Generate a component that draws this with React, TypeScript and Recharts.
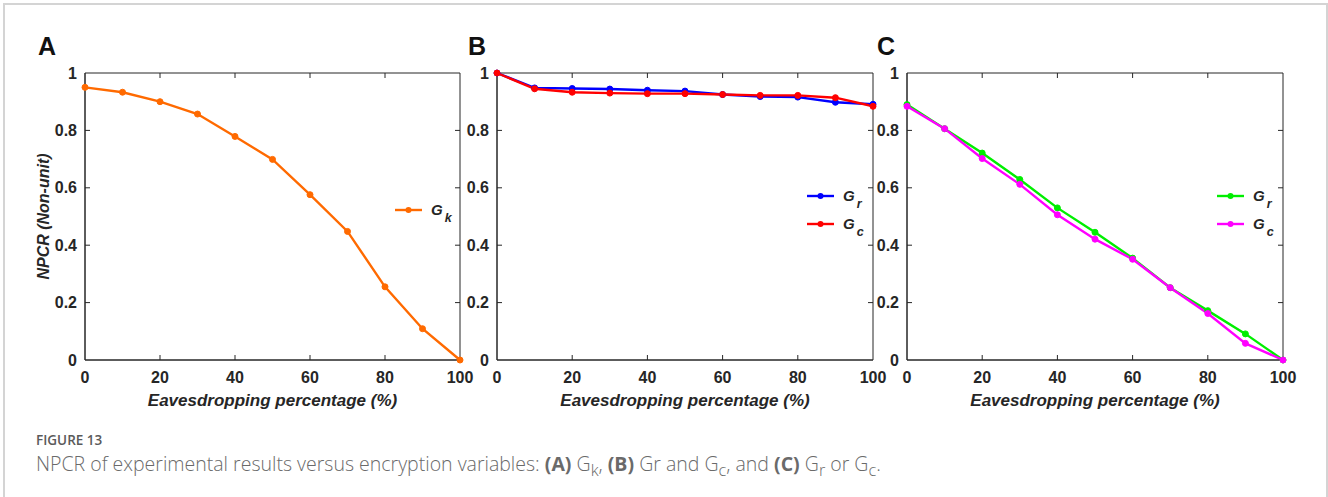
import React from 'react';
import { LineChart, Line, XAxis, YAxis, Legend, ReferenceArea, ReferenceLine } from 'recharts';

const eavesdropping = [0, 10, 20, 30, 40, 50, 60, 70, 80, 90, 100];
const gkA = [0.95, 0.933, 0.9, 0.857, 0.779, 0.699, 0.576, 0.448, 0.255, 0.109, 0.0];
const grB = [1.0, 0.948, 0.946, 0.944, 0.94, 0.937, 0.925, 0.918, 0.916, 0.898, 0.891];
const gcB = [1.0, 0.945, 0.933, 0.93, 0.928, 0.928, 0.925, 0.922, 0.922, 0.914, 0.884];
const grC = [0.89, 0.806, 0.721, 0.629, 0.53, 0.445, 0.355, 0.252, 0.172, 0.091, 0.0];
const gcC = [0.884, 0.806, 0.702, 0.612, 0.506, 0.421, 0.351, 0.252, 0.162, 0.058, 0.0];

const xTicks = [0, 20, 40, 60, 80, 100];
const yTicks = [0, 0.2, 0.4, 0.6, 0.8, 1];

const AXIS_COLOR = '#262626';
const FONT = '"Liberation Sans", Arial, Helvetica, sans-serif';
const TICK_LEN = 5;

type Series = { key: string; name: string; color: string; values: number[] };

const buildData = (series: Series[]) =>
  eavesdropping.map((x, i) => {
    const row: Record<string, number> = { x };
    series.forEach((s) => {
      row[s.key] = s.values[i];
    });
    return row;
  });

// Inward tick marks at both ends of a vertical reference line (bottom + top of frame)
const VerticalTickMarks = (props: any) => {
  const { x1, y1, y2 } = props;
  const top = Math.min(y1, y2);
  const bottom = Math.max(y1, y2);
  return (
    <g>
      <line x1={x1} x2={x1} y1={bottom} y2={bottom - TICK_LEN} stroke={AXIS_COLOR} strokeWidth={1} />
      <line x1={x1} x2={x1} y1={top} y2={top + TICK_LEN} stroke={AXIS_COLOR} strokeWidth={1} />
    </g>
  );
};

// Inward tick marks at both ends of a horizontal reference line (left + right of frame)
const HorizontalTickMarks = (props: any) => {
  const { x1, x2, y1 } = props;
  const left = Math.min(x1, x2);
  const right = Math.max(x1, x2);
  return (
    <g>
      <line x1={left} x2={left + TICK_LEN} y1={y1} y2={y1} stroke={AXIS_COLOR} strokeWidth={1} />
      <line x1={right} x2={right - TICK_LEN} y1={y1} y2={y1} stroke={AXIS_COLOR} strokeWidth={1} />
    </g>
  );
};

const LegendContent = (props: any) => {
  const { payload, order } = props;
  const items = [...(payload || [])].sort(
    (a: any, b: any) => (order || []).indexOf(a.value) - (order || []).indexOf(b.value)
  );
  return (
    <div style={{ display: 'flex', flexDirection: 'column', fontFamily: FONT }}>
      {items.map((entry: any) => {
        const [base, sub] = String(entry.value).split('_');
        return (
          <div key={entry.value} style={{ display: 'flex', alignItems: 'center', height: 28 }}>
            <svg width={27} height={10} style={{ display: 'block' }}>
              <line x1={0} y1={5} x2={27} y2={5} stroke={entry.color} strokeWidth={2.4} />
              <circle cx={13.5} cy={5} r={3} fill={entry.color} />
            </svg>
            <span
              style={{
                marginLeft: 9,
                fontStyle: 'italic',
                fontWeight: 'bold',
                fontSize: 15,
                color: AXIS_COLOR,
                lineHeight: '15px',
              }}
            >
              {base}
              <span style={{ fontSize: 12.5, position: 'relative', top: 7, marginLeft: 2 }}>{sub}</span>
            </span>
          </div>
        );
      })}
    </div>
  );
};

type PanelProps = {
  series: Series[];
  left: number;
  width: number;
  yAxisWidth: number;
  marginRight: number;
  yTitle?: string;
  legendLeft: number;
  legendTop: number;
};

const Panel = ({ series, left, width, yAxisWidth, marginRight, yTitle, legendLeft, legendTop }: PanelProps) => {
  const data = buildData(series);
  const tickStyle = { fill: AXIS_COLOR, fontSize: 16, fontWeight: 'bold', fontFamily: FONT };
  return (
    <div style={{ position: 'absolute', left, top: 0 }}>
      <LineChart
        width={width}
        height={420}
        data={data}
        margin={{ top: 73, right: marginRight, bottom: 0, left: 0 }}
      >
        <XAxis
          dataKey="x"
          type="number"
          domain={[0, 100]}
          ticks={xTicks}
          interval={0}
          height={60}
          tickSize={0}
          tickLine={false}
          tickMargin={12}
          stroke={AXIS_COLOR}
          tick={tickStyle}
          label={{
            value: 'Eavesdropping percentage (%)',
            position: 'insideBottom',
            offset: 14,
            style: { fill: AXIS_COLOR, fontSize: 17, fontWeight: 'bold', fontStyle: 'italic', fontFamily: FONT },
          }}
        />
        <YAxis
          type="number"
          domain={[0, 1]}
          ticks={yTicks}
          interval={0}
          width={yAxisWidth}
          tickSize={0}
          tickLine={false}
          tickMargin={8}
          stroke={AXIS_COLOR}
          tick={tickStyle}
          tickFormatter={(v: number) => String(v)}
          label={
            yTitle
              ? {
                  value: yTitle,
                  position: 'insideLeft',
                  offset: 43,
                  angle: -90,
                  style: {
                    textAnchor: 'middle',
                    fill: AXIS_COLOR,
                    fontSize: 16,
                    fontWeight: 'bold',
                    fontStyle: 'italic',
                    fontFamily: FONT,
                  },
                }
              : undefined
          }
        />
        <ReferenceArea
          x1={0}
          x2={100}
          y1={0}
          y2={1}
          fill="none"
          fillOpacity={0}
          stroke={AXIS_COLOR}
          strokeWidth={1}
          ifOverflow="visible"
        />
        {xTicks.slice(1, -1).map((t) => (
          <ReferenceLine key={`xt${t}`} x={t} shape={<VerticalTickMarks />} ifOverflow="visible" />
        ))}
        {yTicks.slice(1, -1).map((t) => (
          <ReferenceLine key={`yt${t}`} y={t} shape={<HorizontalTickMarks />} ifOverflow="visible" />
        ))}
        {series.map((s) => (
          <Line
            key={s.key}
            dataKey={s.key}
            name={s.name}
            stroke={s.color}
            strokeWidth={2.4}
            dot={{ r: 3, fill: s.color, stroke: s.color, strokeWidth: 1 }}
            isAnimationActive={false}
          />
        ))}
        <Legend
          layout="horizontal"
          verticalAlign="middle"
          align="center"
          content={<LegendContent order={series.map((s) => s.name)} />}
          wrapperStyle={{ left: legendLeft, top: legendTop, width: 'auto', height: 'auto' }}
        />
      </LineChart>
    </div>
  );
};

const seriesA: Series[] = [{ key: 'gk', name: 'G_k', color: '#ff6a00', values: gkA }];
const seriesB: Series[] = [
  { key: 'gr', name: 'G_r', color: '#0000ff', values: grB },
  { key: 'gc', name: 'G_c', color: '#ff0000', values: gcB },
];
const seriesC: Series[] = [
  { key: 'gr', name: 'G_r', color: '#00ee00', values: grC },
  { key: 'gc', name: 'G_c', color: '#ff00ff', values: gcC },
];

const letterStyle: React.CSSProperties = {
  position: 'absolute',
  top: 34,
  fontFamily: FONT,
  fontWeight: 'bold',
  fontSize: 25,
  lineHeight: 1,
  color: '#111',
};

export default function App() {
  return (
    <div
      style={{
        position: 'absolute',
        left: 0,
        top: 0,
        width: 1328,
        height: 497,
        background: '#fff',
        overflow: 'hidden',
      }}
    >
      <div
        style={{
          position: 'absolute',
          left: 3,
          top: 3,
          width: 1321,
          height: 520,
          border: '2px solid #d4d4d4',
          borderBottom: 'none',
        }}
      />
      <Panel
        series={seriesA}
        left={0}
        width={480}
        yAxisWidth={85}
        marginRight={20}
        yTitle="NPCR (Non-unit)"
        legendLeft={395}
        legendTop={196}
      />
      <Panel
        series={seriesB}
        left={460}
        width={430}
        yAxisWidth={37}
        marginRight={17}
        legendLeft={347}
        legendTop={182}
      />
      <Panel
        series={seriesC}
        left={870}
        width={440}
        yAxisWidth={37}
        marginRight={27}
        legendLeft={347}
        legendTop={182}
      />
      <div style={{ ...letterStyle, left: 38 }}>A</div>
      <div style={{ ...letterStyle, left: 468 }}>B</div>
      <div style={{ ...letterStyle, left: 877 }}>C</div>
      <div
        style={{
          position: 'absolute',
          left: 36,
          top: 434,
          fontFamily: '"Open Sans", sans-serif',
          fontSize: 13.5,
          lineHeight: '13.5px',
          fontWeight: 600,
          color: '#5a5a5a',
          whiteSpace: 'nowrap',
        }}
      >
        FIGURE 13
      </div>
      <div
        style={{
          position: 'absolute',
          left: 36,
          top: 454,
          fontFamily: '"Open Sans", sans-serif',
          fontSize: 19.5,
          lineHeight: '19.5px',
          fontWeight: 300,
          color: '#6a6a6a',
          whiteSpace: 'nowrap',
        }}
      >
        NPCR of experimental results versus encryption variables: <b style={{ fontWeight: 700 }}>(A)</b> G
        <sub>k</sub>, <b style={{ fontWeight: 700 }}>(B)</b> Gr and G<sub>c</sub>, and{' '}
        <b style={{ fontWeight: 700 }}>(C)</b> G<sub>r</sub> or G<sub>c</sub>.
      </div>
    </div>
  );
}
